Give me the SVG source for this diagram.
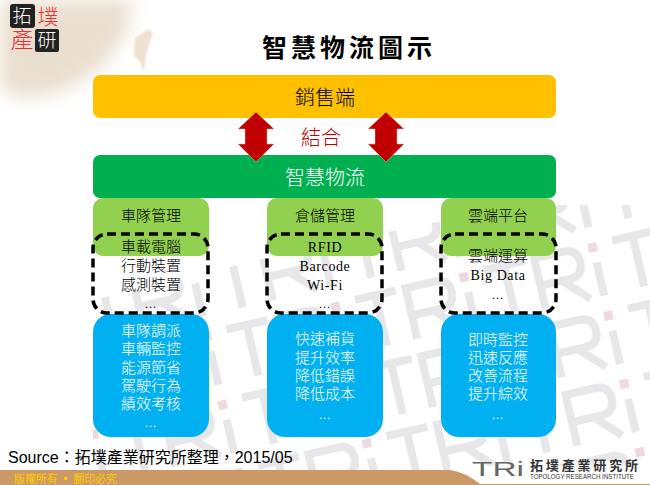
<svg xmlns="http://www.w3.org/2000/svg" width="650" height="485" viewBox="0 0 650 485">
<style>
.c{font-family:"Noto Sans CJK TC","Liberation Serif",serif;text-anchor:middle;font-weight:300}
.l{font-size:15px;fill:#000}
.w{font-size:15px;fill:#fff}
.lat{font-family:"Liberation Serif","Noto Sans CJK TC",serif;text-anchor:middle;font-size:14px;fill:#000;letter-spacing:.6px}
.dot{font-family:"Liberation Serif",serif;text-anchor:middle;font-size:12px;letter-spacing:1px}
.head{fill:#92D050}
.blue{fill:#00B0F0}
.dash{fill:none;stroke:#000;stroke-width:3.5;stroke-dasharray:9 5}
</style>
<defs>
<filter id="b" x="-30%" y="-30%" width="160%" height="160%"><feGaussianBlur stdDeviation="9"/></filter>
<filter id="b2"><feGaussianBlur stdDeviation="1.2"/></filter>
<pattern id="wm" width="132" height="70" patternUnits="userSpaceOnUse" patternTransform="translate(60 214) rotate(-13)">
<path d="M4 10H46M25 10V62M56 62V10H86Q100 10 100 24Q100 38 86 38H56M78 38L102 62M116 28V62" fill="none" stroke="#e7e7ea" stroke-width="8"/>
<rect x="111" y="8" width="9" height="9" fill="#eed9dd"/>
</pattern>
<clipPath id="wc"><path d="M93 300L300 250L520 205H650V470H93Z"/></clipPath>
</defs>
<rect width="650" height="485" fill="#fff"/>
<g id="background">
<path d="M0 0H135L125 35L100 70L60 92L25 98L0 90Z" fill="#eadfcf" filter="url(#b)"/>
<path d="M135 38L148 29L153 33L146 55L144 72L140 62L134 56Z" fill="#f0e0d2" filter="url(#b2)"/>
<rect x="93" y="200" width="557" height="270" fill="url(#wm)" clip-path="url(#wc)"/>
</g>
<g id="logo">
<rect x="10" y="4" width="25" height="24" rx="3" fill="#222"/>
<rect x="35" y="29" width="24" height="23" rx="2" fill="#222"/>
<text x="22" y="23" class="c" font-size="19" fill="#fff">拓</text>
<text x="48" y="24" class="c" font-size="21" fill="#e8303a">墣</text>
<text x="22" y="48" class="c" font-size="23" fill="#e8303a">產</text>
<text x="47" y="47" class="c" font-size="19" fill="#fff">研</text>
</g>
<text id="title" x="349" y="57" class="c" font-size="25" style="font-weight:700" letter-spacing="4">智慧物流圖示</text>
<g id="sales"><rect x="93" y="75" width="463" height="43" rx="7" fill="#FFC000"/><text x="325" y="105" class="c" font-size="20">銷售端</text></g>
<g id="logistics"><rect x="93" y="155" width="463" height="43" rx="7" fill="#00B050"/><text x="325" y="185" class="c" font-size="20" fill="#fff">智慧物流</text></g>
<g id="combine"><text x="321" y="145" class="c" font-size="20" fill="#C00000">結合</text></g>
<g id="connectors" fill="#C00000" stroke="#e8b8b8" stroke-width=".5">
<path id="arrow-left" d="M256 112L274 129H267V144H274L256 162L238 144H245V129H238Z"/>
<path id="arrow-right" d="M386 112L404 129H397V144H404L386 162L368 144H375V129H368Z"/>
</g>
<g id="col1">
<rect class="head" x="93" y="198" width="116" height="58" rx="10"/>
<rect class="blue" x="93" y="314" width="116" height="123" rx="18"/>
<text x="151" y="221" class="c l">車隊管理</text>
<text x="151" y="252" class="c l">車載電腦</text>
<text x="151" y="271" class="c l">行動裝置</text>
<text x="151" y="290" class="c l">感測裝置</text>
<text x="151" y="308" class="dot">...</text>
<text x="151" y="336" class="c w">車隊調派</text>
<text x="151" y="354" class="c w">車輛監控</text>
<text x="151" y="373" class="c w">能源節省</text>
<text x="151" y="391" class="c w">駕駛行為</text>
<text x="151" y="409" class="c w">績效考核</text>
<text x="151" y="427" class="dot" fill="#fff">...</text>
<rect class="dash" x="93" y="234" width="115" height="79" rx="14"/>
</g>
<g id="col2">
<rect class="head" x="267" y="198" width="116" height="58" rx="10"/>
<rect class="blue" x="267" y="314" width="116" height="123" rx="18"/>
<text x="325" y="221" class="c l">倉儲管理</text>
<text x="325" y="252" class="lat">RFID</text>
<text x="325" y="271" class="lat">Barcode</text>
<text x="325" y="290" class="lat">Wi-Fi</text>
<text x="325" y="308" class="dot">...</text>
<text x="325" y="344" class="c w">快速補貨</text>
<text x="325" y="363" class="c w">提升效率</text>
<text x="325" y="381" class="c w">降低錯誤</text>
<text x="325" y="399" class="c w">降低成本</text>
<text x="325" y="419" class="dot" fill="#fff">...</text>
<rect class="dash" x="267" y="234" width="115" height="79" rx="14"/>
</g>
<g id="col3">
<rect class="head" x="441" y="198" width="115" height="58" rx="10"/>
<rect class="blue" x="441" y="314" width="115" height="123" rx="18"/>
<text x="498" y="221" class="c l">雲端平台</text>
<text x="498" y="261" class="c l">雲端運算</text>
<text x="498" y="280" class="lat">Big Data</text>
<text x="498" y="299" class="dot">...</text>
<text x="498" y="345" class="c w">即時監控</text>
<text x="498" y="363" class="c w">迅速反應</text>
<text x="498" y="381" class="c w">改善流程</text>
<text x="498" y="399" class="c w">提升綜效</text>
<text x="498" y="419" class="dot" fill="#fff">...</text>
<rect class="dash" x="441" y="234" width="115" height="79" rx="14"/>
</g>
<g id="footer">
<rect y="470" width="650" height="15" fill="#CC9966"/>
<path d="M450 470Q465 472 480 484H650V466H450Z" fill="#fff"/>
<text x="8" y="463" font-family="'Liberation Sans','Noto Sans CJK TC',sans-serif" font-size="16" fill="#000">Source：拓墣產業研究所整理，2015/05</text>
<text x="14" y="483" font-family="'Noto Sans CJK TC',sans-serif" font-size="11" fill="#FFCC00" textLength="103">版權所有 ▪ 翻印必究</text>
<text x="472" y="476" font-family="'Liberation Sans',sans-serif" font-size="21" fill="#666" textLength="52" lengthAdjust="spacingAndGlyphs">TRi</text>
<text x="530" y="470" class="c" style="text-anchor:start;font-weight:700" font-size="13" fill="#333" textLength="108">拓墣產業研究所</text>
<text x="530" y="479" font-family="'Liberation Sans',sans-serif" font-size="7" fill="#333" textLength="104" lengthAdjust="spacingAndGlyphs">TOPOLOGY RESEARCH INSTITUTE</text>
</g>
</svg>
